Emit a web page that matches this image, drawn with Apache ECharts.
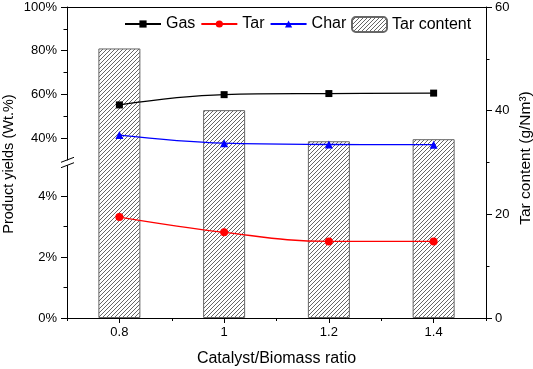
<!DOCTYPE html>
<html>
<head>
<meta charset="utf-8">
<script src="https://cdn.jsdelivr.net/npm/echarts@6/dist/echarts.min.js"></script>
<style>html,body{margin:0;padding:0;background:#fff}#c{width:533px;height:369px}</style>
</head>
<body>
<div id="c"></div>
<script>
// ---- data ----
const ratios = [0.8, 1.0, 1.2, 1.4];
const ratioLabels = [0.8, 1, 1.2, 1.4];
const gasYield = [55.2, 59.9, 60.4, 60.6];
const charYield = [41.4, 37.7, 37.1, 37.0];
const tarYield = [3.31, 2.81, 2.51, 2.51];
const tarContent = [52.0, 40.1, 34.1, 34.5];
const upperTickLabels = [40, 60, 80, 100];
const upperMinorTicks = [50, 70, 90];
const lowerTickLabels = [0, 2, 4];
const lowerMinorTicks = [1, 3];
const xMinorTicks = [0.7, 0.9, 1.1, 1.3, 1.5];

const FONT = "'Liberation Sans', Arial, sans-serif";

function pair(xs, ys) { return xs.map((x, i) => [x, ys[i]]); }

// hatch pattern
const pc = document.createElement('canvas');
pc.width = 4; pc.height = 4;
const g = pc.getContext('2d');
g.fillStyle = '#fff'; g.fillRect(0, 0, 4, 4);
g.strokeStyle = '#666'; g.lineWidth = 1;
g.beginPath();
g.moveTo(-1, 5); g.lineTo(5, -1);
g.moveTo(-1, 1); g.lineTo(1, -1);
g.moveTo(3, 5); g.lineTo(5, 3);
g.stroke();
const hatch = { image: pc, repeat: 'repeat' };

const chart = echarts.init(document.getElementById('c'), null, { renderer: 'canvas' });
const axisLine = { show: true, lineStyle: { color: '#000', width: 1 } };
const labelStyle = { color: '#000', fontSize: 13, fontFamily: FONT };
const legendText = { fontSize: 16, color: '#000', fontFamily: FONT };

const option = {
  backgroundColor: '#fff',
  animation: false,
  textStyle: { fontFamily: FONT },
  grid: [
    { left: 67, right: 47, top: 7, bottom: 51, containLabel: false, outerBoundsMode: 'none' },
    { left: 67, right: 47, top: 7, height: 153, containLabel: false, outerBoundsMode: 'none' },
    { left: 67, right: 47, top: 165.5, bottom: 51, containLabel: false, outerBoundsMode: 'none' }
  ],
  legend: [
    { data: ['Gas', 'Tar', 'Char'], left: 119, top: 11,
      itemWidth: 36, itemHeight: 9, itemGap: 5, textStyle: legendText },
    { data: ['Tar content'], left: 346, top: 11,
      itemWidth: 35, itemHeight: 15, textStyle: legendText }
  ],
  xAxis: [
    { type: 'value', gridIndex: 0, min: 0.7, max: 1.5, position: 'bottom',
      axisLine: axisLine, splitLine: { show: false },
      axisTick: { show: true, length: 5, customValues: ratioLabels, lineStyle: { color: '#000' } },
      axisLabel: Object.assign({ customValues: ratioLabels, margin: 8, formatter: v => String(+v.toFixed(1)) }, labelStyle),
      name: 'Catalyst/Biomass ratio', nameLocation: 'middle', nameGap: 33,
      nameTextStyle: { fontSize: 16, color: '#000', fontFamily: FONT } },
    { type: 'value', gridIndex: 1, min: 0.7, max: 1.5, show: false },
    { type: 'value', gridIndex: 2, min: 0.7, max: 1.5, show: false },
    { type: 'value', gridIndex: 0, min: 0.7, max: 1.5, position: 'top',
      axisLine: axisLine, axisTick: { show: false }, axisLabel: { show: false }, splitLine: { show: false } },
    { type: 'value', gridIndex: 0, min: 0.7, max: 1.5, position: 'bottom',
      axisLine: { show: false }, splitLine: { show: false }, axisLabel: { show: false },
      axisTick: { show: true, length: 3, customValues: xMinorTicks, lineStyle: { color: '#000' } } }
  ],
  yAxis: [
    { type: 'value', gridIndex: 0, min: 0, max: 60, interval: 20, position: 'right',
      axisLine: axisLine, splitLine: { show: false },
      axisTick: { show: true, length: 6, lineStyle: { color: '#000' } },
      minorTick: { show: true, splitNumber: 2, length: 3.5, lineStyle: { color: '#000' } },
      axisLabel: Object.assign({ margin: 9 }, labelStyle) },
    { type: 'value', gridIndex: 1, min: 30, max: 100, position: 'left',
      axisLine: axisLine, splitLine: { show: false },
      axisTick: { show: true, length: 6, customValues: upperTickLabels, lineStyle: { color: '#000' } },
      axisLabel: Object.assign({ customValues: upperTickLabels, margin: 10, formatter: '{value}%' }, labelStyle) },
    { type: 'value', gridIndex: 1, min: 30, max: 100, position: 'left',
      axisLine: { show: false }, splitLine: { show: false }, axisLabel: { show: false },
      axisTick: { show: true, length: 3.5, customValues: upperMinorTicks, lineStyle: { color: '#000' } } },
    { type: 'value', gridIndex: 2, min: 0, max: 5, position: 'left',
      axisLine: axisLine, splitLine: { show: false },
      axisTick: { show: true, length: 6, customValues: lowerTickLabels, lineStyle: { color: '#000' } },
      axisLabel: Object.assign({ customValues: lowerTickLabels, margin: 10, formatter: '{value}%' }, labelStyle) },
    { type: 'value', gridIndex: 2, min: 0, max: 5, position: 'left',
      axisLine: { show: false }, splitLine: { show: false }, axisLabel: { show: false },
      axisTick: { show: true, length: 3.5, customValues: lowerMinorTicks, lineStyle: { color: '#000' } } }
  ],
  graphic: [
    { type: 'text', x: 9, y: 164, rotation: Math.PI / 2, silent: true,
      style: { text: 'Product yields (Wt.%)', fill: '#000', font: '14.5px ' + FONT, align: 'center', verticalAlign: 'middle' } },
    { type: 'text', x: 525.5, y: 158, rotation: Math.PI / 2, silent: true,
      style: { text: 'Tar content (g/Nm³)', fill: '#000', font: '15.5px ' + FONT, align: 'center', verticalAlign: 'middle' } },
    { type: 'line', shape: { x1: 61, y1: 162.3, x2: 74, y2: 157.3 }, style: { stroke: '#000', lineWidth: 1 } },
    { type: 'line', shape: { x1: 61, y1: 167.7, x2: 74, y2: 162.7 }, style: { stroke: '#000', lineWidth: 1 } }
  ],
  series: [
    { name: 'Tar content', type: 'bar', xAxisIndex: 0, yAxisIndex: 0, barWidth: 42,
      data: pair(ratios, tarContent),
      itemStyle: { color: hatch, borderColor: '#666', borderWidth: 1 } },
    { name: 'Gas', type: 'line', xAxisIndex: 1, yAxisIndex: 1, smooth: 0.4,
      symbol: 'rect', symbolSize: 7, data: pair(ratios, gasYield),
      lineStyle: { color: '#000', width: 1.3 }, itemStyle: { color: '#000' } },
    { name: 'Tar', type: 'line', xAxisIndex: 2, yAxisIndex: 3, smooth: 0.4,
      symbol: 'circle', symbolSize: 8, data: pair(ratios, tarYield),
      lineStyle: { color: '#ff0000', width: 1.3 }, itemStyle: { color: '#ff0000' } },
    { name: 'Char', type: 'line', xAxisIndex: 1, yAxisIndex: 1, smooth: 0.4,
      symbol: 'triangle', symbolSize: 8, data: pair(ratios, charYield),
      lineStyle: { color: '#0000ff', width: 1.3 }, itemStyle: { color: '#0000ff' } }
  ]
};
chart.setOption(option);
</script>
</body>
</html>
